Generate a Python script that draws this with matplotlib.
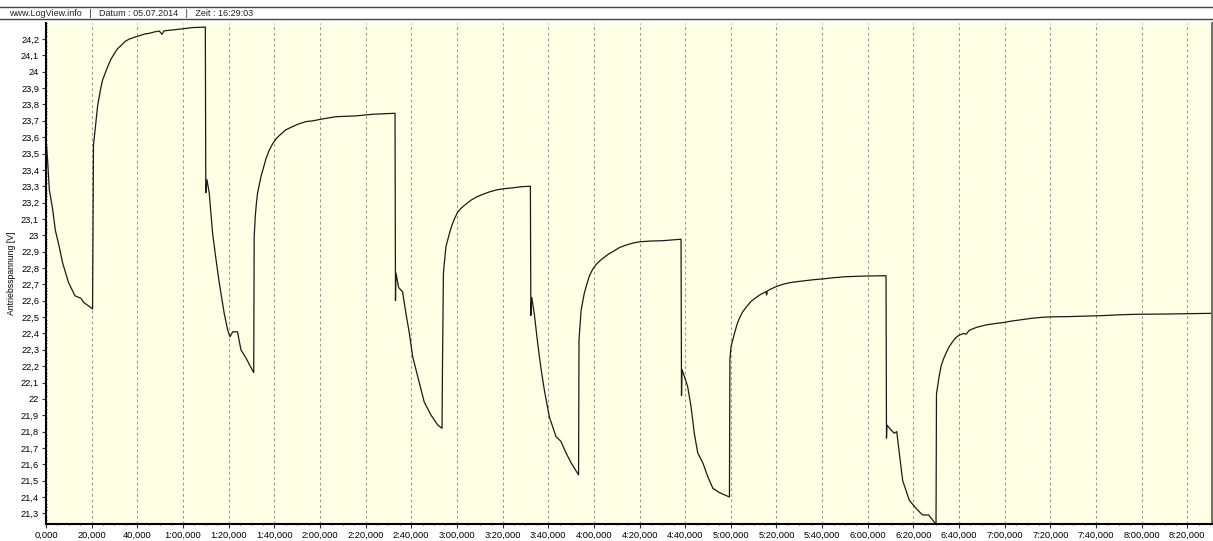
import matplotlib
matplotlib.use("Agg")
import matplotlib.pyplot as plt
from matplotlib.lines import Line2D
from matplotlib.ticker import MultipleLocator, FixedLocator, FuncFormatter

plt.rcParams['font.family'] = ['Liberation Sans', 'DejaVu Sans']

# log time in seconds, drive voltage in V
zeit = [0.0, 0.7, 1.45, 2.9, 4.1, 5.8, 7.3, 9.9, 12.7, 15.3, 16.5, 20.4,
        20.8, 21.9, 22.6, 23.35, 24.0, 24.8, 27.0, 28.4, 29.9, 31.3, 32.9, 34.6, 36.5, 38.6,
        40.9, 43.1, 45.3, 47.4, 49.6, 50.8, 51.7, 58.4, 64.2, 69.8,
        70.0, 70.5, 71.5, 73.0, 74.5, 75.9, 78.1, 79.6, 80.6, 81.8, 83.9, 85.4, 87.6, 91.0,
        91.2, 91.7, 92.2, 92.7, 94.2, 96.4, 97.8, 99.3, 101.1, 103.0, 105.1, 107.3, 110.5,
        113.9, 117.0, 120.5, 127.0, 135.8, 143.1, 152.9,
        153.1, 153.3, 154.5, 156.2, 157.7, 159.2, 160.6, 162.8, 165.7, 168.7, 171.6, 173.5,
        173.7, 174.1, 175.2, 176.7, 177.8, 178.9, 180.3, 181.8, 183.9, 186.2, 188.7, 191.3,
        194.2, 197.2, 200.6, 204.4, 208.3, 212.2,
        212.4, 212.8, 213.9, 215.4, 216.9, 218.3, 220.5, 223.4, 225.6, 227.8, 230.0, 233.3,
        233.5, 234.4, 235.8, 236.9, 238.0, 239.4, 240.9, 242.7, 244.6, 246.4, 248.3, 251.2,
        254.1, 257.0, 259.9, 264.9, 270.1, 278.2,
        278.4, 278.6, 279.6, 281.1, 282.6, 284.0, 285.5, 287.7, 289.9, 292.1, 295.0, 299.4,
        299.6, 300.1, 301.6, 302.6, 303.7, 305.1, 306.7, 308.8, 311.1, 313.2, 315.4, 315.7,
        316.0, 317.8, 319.8, 322.7, 325.7, 329.3, 332.9, 336.5, 340.2, 345.3, 350.5, 359.2,
        368.0,
        368.2, 368.4, 370.2, 371.6, 372.7, 373.8, 375.3, 378.2, 381.2, 384.0, 386.7, 389.9,
        390.1, 390.6, 391.3, 392.1, 393.2, 394.3, 395.7, 397.2, 398.6, 400.1, 402.0, 403.1,
        404.5, 407.8, 411.8, 415.5, 419.1, 422.7, 426.4, 431.5, 436.6, 442.4, 448.3, 455.6,
        462.9, 470.2, 477.5, 484.8, 492.1, 501.2, 510.4]

spannung = [23.59, 23.46, 23.28, 23.16, 23.03, 22.93, 22.83, 22.71, 22.63, 22.615, 22.59, 22.55,
            23.55, 23.70, 23.79, 23.85, 23.90, 23.95, 24.03, 24.075, 24.11, 24.14, 24.16, 24.185, 24.20, 24.21,
            24.22, 24.23, 24.235, 24.243, 24.249, 24.229, 24.25, 24.26, 24.27, 24.273,
            23.26, 23.34, 23.26, 23.01, 22.85, 22.71, 22.52, 22.42, 22.38, 22.41, 22.41, 22.30, 22.25, 22.16,
            22.99, 23.12, 23.2, 23.26, 23.36, 23.47, 23.52, 23.56, 23.595, 23.62, 23.645, 23.66, 23.68,
            23.695, 23.70, 23.71, 23.725, 23.73, 23.74, 23.746,
            22.60, 22.77, 22.68, 22.655, 22.52, 22.40, 22.26, 22.14, 21.98, 21.90, 21.84, 21.82,
            22.22, 22.77, 22.93, 23.01, 23.06, 23.10, 23.14, 23.165, 23.19, 23.215, 23.235, 23.25,
            23.265, 23.277, 23.285, 23.29, 23.297, 23.30,
            22.51, 22.62, 22.52, 22.34, 22.18, 22.055, 21.89, 21.77, 21.74, 21.67, 21.61, 21.535,
            22.36, 22.54, 22.645, 22.70, 22.75, 22.79, 22.82, 22.845, 22.866, 22.885, 22.90, 22.925,
            22.94, 22.952, 22.96, 22.965, 22.967, 22.976,
            22.02, 22.18, 22.14, 22.075, 21.95, 21.79, 21.67, 21.61, 21.525, 21.454, 21.427, 21.40,
            22.24, 22.32, 22.40, 22.45, 22.49, 22.53, 22.56, 22.595, 22.62, 22.64, 22.655, 22.635,
            22.66, 22.673, 22.686, 22.70, 22.71, 22.717, 22.723, 22.729, 22.733, 22.741, 22.747, 22.751,
            22.753,
            21.76, 21.84, 21.81, 21.79, 21.80, 21.67, 21.50, 21.38, 21.33, 21.29, 21.29, 21.233,
            22.03, 22.075, 22.14, 22.20, 22.245, 22.28, 22.32, 22.35, 22.375, 22.39, 22.40, 22.395,
            22.42, 22.438, 22.452, 22.46, 22.466, 22.475, 22.482, 22.492, 22.499, 22.502, 22.503, 22.506,
            22.509, 22.514, 22.517, 22.518, 22.519, 22.521, 22.523]

volt_ticks = [round(21.3 + 0.1 * i, 1) for i in range(30)]

kopf = "www.LogView.info   |   Datum : 05.07.2014   |   Zeit : 16:29:03"


def zeit_label(s, pos):
    s = int(round(s))
    m, sek = divmod(s, 60)
    if m == 0:
        return f"{sek},000"
    return f"{m}:{sek:02d},000"


def volt_label(v, pos):
    txt = f"{v:.1f}".replace(".", ",")
    if txt.endswith(",0"):
        txt = txt[:-2]
    return txt


fig = plt.figure(figsize=(12.13, 5.41), dpi=100)
ax = fig.add_axes([46 / 1213, 1 - 524 / 541, 1166 / 1213, (524 - 22.5) / 541])
ax.set_facecolor('#ffffe6')

ax.plot(zeit, spannung, color='#1a1a1a', lw=0.9)

ax.set_xlim(0, 510.8)
ax.set_ylim(21.235, 24.301)

ax.xaxis.set_major_locator(MultipleLocator(20))
ax.xaxis.set_minor_locator(MultipleLocator(5))
ax.xaxis.set_major_formatter(FuncFormatter(zeit_label))
ax.yaxis.set_major_locator(FixedLocator(volt_ticks))
ax.yaxis.set_minor_locator(MultipleLocator(0.02))
ax.yaxis.set_major_formatter(FuncFormatter(volt_label))

ax.tick_params(axis='both', which='major', labelsize=6.7, length=3, width=0.8,
               pad=2, color='#333333')
ax.tick_params(axis='both', which='minor', length=2, width=0.6, direction='inout',
               color='#333333')

ax.grid(axis='x', which='major', color='#9a9a9a', lw=0.8, linestyle=(0, (2.5, 2.5)))

for side in ('left', 'bottom'):
    ax.spines[side].set_linewidth(1.5)
    ax.spines[side].set_color('black')
ax.spines['right'].set_color('#6e6e6e')
ax.spines['right'].set_linewidth(1.4)
ax.spines['top'].set_visible(False)

ax.set_ylabel("Antriebsspannung [V]", fontsize=6.2, labelpad=3)
ax.yaxis.set_label_coords(-0.026, 0.5)

# header strip
fig.add_artist(Line2D([0, 1], [1 - 7.3 / 541, 1 - 7.3 / 541], color='#444444', lw=1.0))
fig.add_artist(Line2D([0, 1], [1 - 19.3 / 541, 1 - 19.3 / 541], color='#444444', lw=1.0))
fig.text(9 / 1213, 1 - 13.3 / 541, kopf, fontsize=6.5, va='center', ha='left', color='#222222')

fig.savefig("out.png", dpi=100, facecolor='white')
